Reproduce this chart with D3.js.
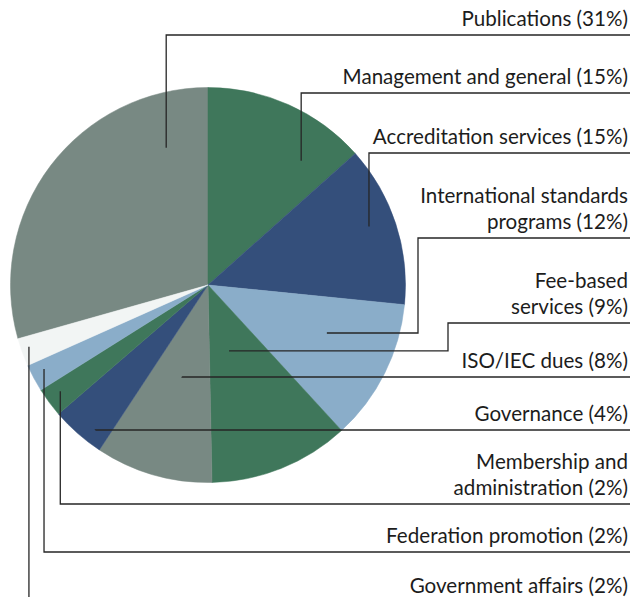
<!DOCTYPE html>
<html>
<head>
<meta charset="utf-8">
<script src="https://cdn.jsdelivr.net/npm/d3@7"></script>
<style>
  html, body { margin: 0; padding: 0; background: #fff; }
  svg { display: block; }
  .label { font-family: Lato, "Noto Sans", sans-serif; font-size: 20.6px; fill: #1c1c1c; }
</style>
</head>
<body>
<svg id="chart"></svg>
<script>
// categories, top-to-bottom as in the label column
const categories = [
    ["Publications (31%)"],
    ["Management and general (15%)"],
    ["Accreditation services (15%)"],
    ["International standards", "programs (12%)"],
    ["Fee-based", "services (9%)"],
    ["ISO/IEC dues (8%)"],
    ["Governance (4%)"],
    ["Membership and", "administration (2%)"],
    ["Federation promotion (2%)"],
    ["Government affairs (2%)"]
];
// slice sizes as drawn (percent of the circle)
const values = [29.4, 13.4, 13.2, 11.6, 11.5, 9.6, 4.4, 2.4, 2.25, 2.3];

const colors = ["#788983", "#3f775b", "#344f7b", "#8aadc9", "#3f775b",
                "#788983", "#344f7b", "#3f775b", "#8aadc9", "#f2f5f4"];

// leader line layout: where the line touches the slice (fraction along the
// slice, fraction of radius), the y of the label rule and an optional elbow x
const anchorT = [0.84, 0.765, 0.46, 0.39, 0.60, 0.49, 0.28, 0.59, 0.62, 0.61];
const anchorR = [0.727, 0.786, 0.867, 0.649, 0.35, 0.483, 0.93, 0.921, 0.933, 0.959];
const ruleY = [35, 93, 153, 238, 323, 377, 430, 504, 552, 602];
const elbowX = [null, null, null, 418, 448, null, null, null, null, null];

const width = 642, height = 597;
const cx = 208, cy = 285, radius = 197.5;
const rightEdge = 630, textRight = 628, lineHeight = 26.5;

const svg = d3.select("#chart")
    .attr("width", width)
    .attr("height", height);

const total = d3.sum(values);
const start = -2 * Math.PI * values[0] / total;

const pie = d3.pie()
    .sort(null)
    .value(d => d)
    .startAngle(start)
    .endAngle(start + 2 * Math.PI);

const arcs = pie(values);

const arc = d3.arc()
    .innerRadius(0)
    .outerRadius(radius);

const g = svg.append("g")
    .attr("transform", `translate(${cx},${cy})`);

g.selectAll("path")
    .data(arcs)
    .enter()
    .append("path")
    .attr("d", arc)
    .attr("fill", (d, i) => colors[i])
    .attr("stroke", (d, i) => colors[i])
    .attr("stroke-width", 0.5);

// Leader lines
const r = d3.scaleLinear().domain([0, 1]).range([0, radius]);

svg.append("g")
    .selectAll("path")
    .data(arcs)
    .enter()
    .append("path")
    .attr("fill", "none")
    .attr("stroke", "#262626")
    .attr("stroke-width", 1.3)
    .attr("d", (d, i) => {
        const a = d.startAngle + anchorT[i] * (d.endAngle - d.startAngle);
        const ax = cx + Math.sin(a) * r(anchorR[i]);
        const ay = cy - Math.cos(a) * r(anchorR[i]);
        const ex = elbowX[i] == null ? ax : elbowX[i];
        return d3.line()([[ax, ay], [ex, ay], [ex, ruleY[i]], [rightEdge, ruleY[i]]]);
    });

// Labels
const labels = svg.append("g")
    .selectAll("text")
    .data(categories)
    .enter()
    .append("text")
    .attr("class", "label")
    .attr("text-anchor", "end")
    .attr("y", (d, i) => ruleY[i] - 9 - (d.length - 1) * lineHeight);

labels.selectAll("tspan")
    .data(d => d)
    .enter()
    .append("tspan")
    .attr("x", textRight)
    .attr("dy", (d, i) => i === 0 ? 0 : lineHeight)
    .text(d => d);
</script>
</body>
</html>
